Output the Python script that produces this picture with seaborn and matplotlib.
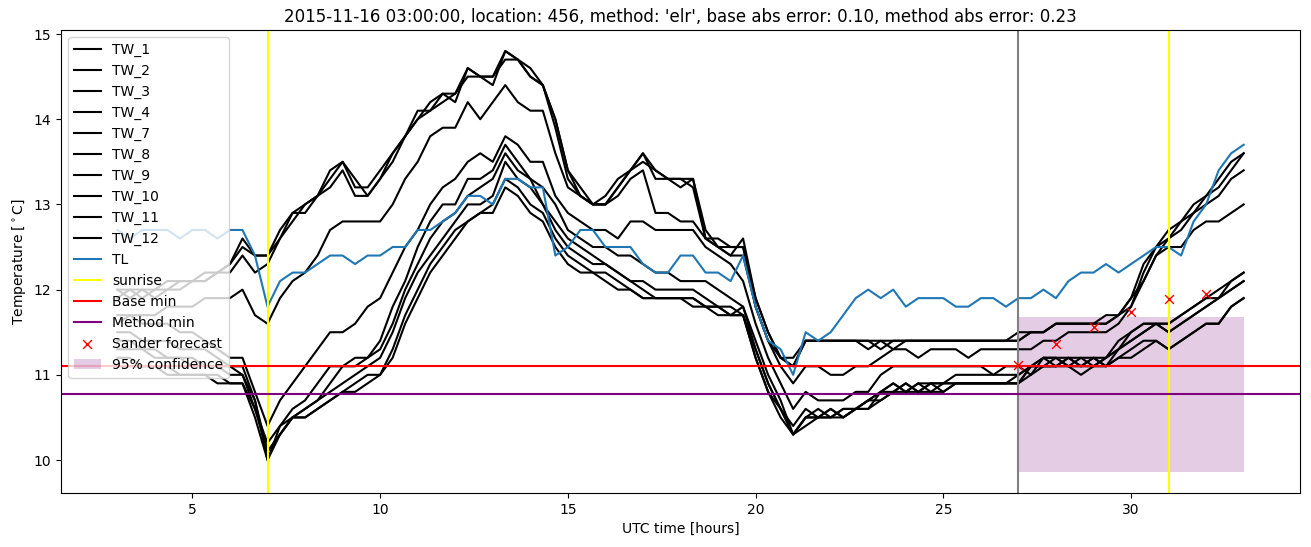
import numpy as np
import pandas as pd
import matplotlib
matplotlib.use("Agg")
import matplotlib.pyplot as plt
import seaborn as sns

# time grid: every 20 minutes from 03:00 to 33:00 (UTC hours)
hours = 3 + np.arange(91) / 3.0

TW_1 = [12.0, 11.9, 12.0, 11.9, 12.0, 12.0, 12.1, 12.1, 12.2, 12.3, 12.6, 12.4,
        12.4, 12.7, 12.9, 13.0, 13.1, 13.4, 13.5, 13.2, 13.2, 13.4, 13.6, 13.8,
        14.1, 14.1, 14.3, 14.2, 14.6, 14.5, 14.4, 14.8, 14.7, 14.6, 14.4, 14.0,
        13.4, 13.1, 13.0, 13.1, 13.3, 13.4, 13.6, 13.3, 13.3, 13.3, 13.3, 12.7,
        12.5, 12.5, 12.5, 11.9, 11.5, 11.2, 11.1, 11.4, 11.4, 11.4, 11.4, 11.4,
        11.3, 11.4, 11.4, 11.4, 11.4, 11.4, 11.4, 11.4, 11.4, 11.4, 11.4, 11.4,
        11.4, 11.5, 11.5, 11.6, 11.6, 11.6, 11.6, 11.6, 11.7, 11.8, 12.2, 12.5,
        12.7, 12.8, 13.0, 13.1, 13.3, 13.5, 13.6]
TW_2 = [12.0, 12.0, 11.9, 12.0, 12.0, 12.1, 12.1, 12.1, 12.2, 12.2, 12.4, 12.2,
        12.3, 12.6, 12.8, 13.0, 13.1, 13.2, 13.4, 13.1, 13.1, 13.3, 13.5, 13.8,
        14.0, 14.1, 14.2, 14.3, 14.6, 14.5, 14.5, 14.7, 14.7, 14.5, 14.4, 13.9,
        13.3, 13.1, 13.0, 13.0, 13.2, 13.4, 13.6, 13.4, 13.3, 13.2, 13.3, 12.6,
        12.6, 12.5, 12.5, 11.8, 11.4, 11.2, 11.1, 11.4, 11.4, 11.4, 11.4, 11.4,
        11.4, 11.3, 11.4, 11.4, 11.4, 11.4, 11.4, 11.4, 11.4, 11.4, 11.4, 11.4,
        11.4, 11.5, 11.5, 11.6, 11.6, 11.6, 11.6, 11.7, 11.7, 11.9, 12.3, 12.5,
        12.6, 12.8, 12.9, 13.1, 13.2, 13.4, 13.6]
TW_3 = [11.9, 12.0, 12.0, 12.0, 12.1, 12.1, 12.1, 12.2, 12.2, 12.3, 12.5, 12.4,
        12.4, 12.6, 12.9, 12.9, 13.1, 13.3, 13.5, 13.3, 13.1, 13.3, 13.6, 13.8,
        14.0, 14.2, 14.3, 14.3, 14.5, 14.5, 14.5, 14.8, 14.7, 14.5, 14.4, 14.0,
        13.4, 13.2, 13.0, 13.0, 13.2, 13.4, 13.5, 13.4, 13.3, 13.3, 13.2, 12.6,
        12.5, 12.4, 12.6, 11.9, 11.5, 11.2, 11.2, 11.4, 11.4, 11.4, 11.4, 11.4,
        11.4, 11.4, 11.3, 11.4, 11.4, 11.4, 11.4, 11.4, 11.4, 11.4, 11.4, 11.4,
        11.5, 11.5, 11.5, 11.6, 11.6, 11.6, 11.6, 11.6, 11.7, 11.9, 12.1, 12.4,
        12.6, 12.7, 12.9, 13.0, 13.1, 13.3, 13.4]
TW_4 = [11.6, 11.7, 11.7, 11.7, 11.8, 11.8, 11.8, 11.9, 11.9, 11.9, 12.0, 11.7,
        11.6, 11.9, 12.1, 12.2, 12.4, 12.7, 12.8, 12.8, 12.8, 12.8, 13.0, 13.3,
        13.5, 13.8, 13.9, 13.9, 14.2, 14.0, 14.2, 14.4, 14.2, 14.1, 14.1, 13.6,
        13.2, 13.1, 13.0, 13.0, 13.1, 13.3, 13.4, 12.9, 12.9, 12.8, 12.8, 12.6,
        12.5, 12.4, 12.4, 11.8, 11.4, 11.1, 10.9, 11.1, 11.1, 11.0, 11.0, 11.1,
        11.1, 11.2, 11.3, 11.3, 11.2, 11.3, 11.3, 11.3, 11.2, 11.3, 11.3, 11.3,
        11.3, 11.3, 11.4, 11.4, 11.5, 11.5, 11.5, 11.5, 11.6, 11.8, 12.1, 12.4,
        12.5, 12.5, 12.7, 12.8, 12.8, 12.9, 13.0]
TW_7 = [11.7, 11.7, 11.6, 11.6, 11.6, 11.5, 11.5, 11.4, 11.3, 11.2, 11.2, 10.8,
        10.4, 10.7, 10.9, 11.1, 11.3, 11.5, 11.5, 11.6, 11.8, 11.9, 12.2, 12.5,
        12.7, 13.0, 13.2, 13.3, 13.5, 13.6, 13.5, 13.8, 13.7, 13.5, 13.5, 13.1,
        12.9, 12.8, 12.7, 12.7, 12.6, 12.8, 12.8, 12.7, 12.7, 12.7, 12.7, 12.5,
        12.4, 12.3, 12.1, 11.6, 11.2, 10.9, 10.6, 10.8, 10.7, 10.7, 10.7, 10.8,
        10.8, 11.0, 11.1, 11.1, 11.1, 11.1, 11.1, 11.1, 11.1, 11.1, 11.0, 11.1,
        11.1, 11.0, 11.2, 11.2, 11.1, 11.2, 11.2, 11.1, 11.3, 11.5, 11.6, 11.6,
        11.6, 11.7, 11.8, 11.9, 11.9, 12.1, 12.2]
TW_8 = [11.5, 11.5, 11.4, 11.4, 11.4, 11.3, 11.3, 11.3, 11.2, 11.1, 11.1, 10.7,
        10.0, 10.4, 10.6, 10.7, 10.9, 11.1, 11.1, 11.2, 11.2, 11.4, 11.8, 12.1,
        12.5, 12.8, 13.0, 13.0, 13.3, 13.3, 13.4, 13.7, 13.5, 13.3, 13.2, 13.0,
        12.7, 12.6, 12.5, 12.5, 12.4, 12.4, 12.3, 12.2, 12.2, 12.1, 12.1, 12.1,
        12.0, 11.9, 11.8, 11.4, 11.0, 10.7, 10.3, 10.5, 10.5, 10.6, 10.5, 10.6,
        10.7, 10.8, 10.9, 10.8, 10.9, 10.9, 10.9, 11.0, 11.0, 11.0, 11.0, 11.0,
        11.0, 11.1, 11.2, 11.2, 11.2, 11.1, 11.2, 11.2, 11.4, 11.5, 11.6, 11.6,
        11.5, 11.6, 11.7, 11.8, 11.9, 12.0, 12.1]
TW_9 = [11.3, 11.3, 11.3, 11.2, 11.2, 11.2, 11.1, 11.1, 11.1, 11.1, 11.0, 10.7,
        10.1, 10.3, 10.5, 10.6, 10.7, 10.9, 11.1, 11.1, 11.2, 11.3, 11.6, 12.0,
        12.3, 12.6, 12.8, 12.9, 13.1, 13.2, 13.3, 13.6, 13.4, 13.3, 13.0, 12.8,
        12.6, 12.5, 12.4, 12.3, 12.2, 12.1, 12.1, 12.0, 12.0, 12.0, 12.0, 11.9,
        11.8, 11.8, 11.7, 11.3, 10.9, 10.6, 10.3, 10.5, 10.6, 10.5, 10.6, 10.6,
        10.7, 10.8, 10.8, 10.9, 10.8, 10.9, 10.9, 10.9, 10.9, 10.9, 10.9, 10.9,
        10.9, 11.1, 11.2, 11.1, 11.2, 11.2, 11.1, 11.2, 11.3, 11.4, 11.5, 11.6,
        11.6, 11.7, 11.8, 11.9, 12.0, 12.1, 12.2]
TW_10 = [11.2, 11.2, 11.1, 11.1, 11.1, 11.0, 11.0, 11.0, 11.0, 10.9, 10.9, 10.6,
         10.1, 10.3, 10.5, 10.6, 10.7, 10.8, 10.9, 11.0, 11.1, 11.2, 11.5, 11.9,
         12.2, 12.4, 12.6, 12.8, 13.0, 13.0, 13.1, 13.5, 13.3, 13.2, 13.0, 12.7,
         12.5, 12.4, 12.3, 12.3, 12.2, 12.1, 12.0, 11.9, 11.9, 11.9, 11.9, 11.8,
         11.8, 11.7, 11.7, 11.2, 10.8, 10.6, 10.3, 10.5, 10.5, 10.6, 10.5, 10.6,
         10.6, 10.8, 10.9, 10.8, 10.8, 10.9, 10.8, 10.9, 10.9, 10.9, 10.9, 10.9,
         10.9, 11.1, 11.1, 11.2, 11.1, 11.1, 11.2, 11.1, 11.2, 11.3, 11.4, 11.4,
         11.3, 11.4, 11.5, 11.6, 11.6, 11.8, 11.9]
TW_11 = [11.1, 11.1, 11.1, 11.1, 11.0, 11.0, 11.0, 11.0, 10.9, 10.9, 10.9, 10.5,
         10.0, 10.3, 10.5, 10.5, 10.6, 10.7, 10.8, 10.9, 11.0, 11.0, 11.3, 11.7,
         12.0, 12.3, 12.5, 12.7, 12.8, 12.9, 13.0, 13.3, 13.2, 13.0, 12.9, 12.6,
         12.4, 12.3, 12.2, 12.2, 12.1, 12.0, 11.9, 11.9, 11.9, 11.9, 11.8, 11.8,
         11.7, 11.7, 11.7, 11.2, 10.8, 10.5, 10.3, 10.4, 10.5, 10.5, 10.5, 10.6,
         10.6, 10.7, 10.8, 10.8, 10.9, 10.8, 10.8, 10.9, 10.9, 10.9, 10.9, 10.9,
         10.9, 11.0, 11.1, 11.1, 11.1, 11.0, 11.1, 11.1, 11.2, 11.2, 11.3, 11.4,
         11.3, 11.4, 11.5, 11.6, 11.6, 11.8, 11.9]
TW_12 = [11.4, 11.4, 11.3, 11.3, 11.2, 11.2, 11.2, 11.1, 11.1, 11.0, 11.0, 10.6,
         10.2, 10.4, 10.5, 10.5, 10.6, 10.7, 10.8, 10.8, 10.9, 11.0, 11.2, 11.6,
         11.9, 12.2, 12.4, 12.6, 12.8, 12.9, 12.9, 13.2, 13.1, 12.9, 12.8, 12.5,
         12.3, 12.2, 12.2, 12.1, 12.0, 12.0, 11.9, 11.9, 11.9, 11.9, 11.9, 11.8,
         11.8, 11.7, 11.8, 11.3, 10.9, 10.6, 10.4, 10.6, 10.5, 10.5, 10.6, 10.6,
         10.7, 10.7, 10.8, 10.9, 10.8, 10.8, 10.9, 10.9, 10.9, 10.9, 10.9, 10.9,
         11.0, 11.1, 11.1, 11.1, 11.2, 11.1, 11.1, 11.2, 11.3, 11.4, 11.5, 11.6,
         11.5, 11.6, 11.7, 11.8, 11.9, 12.0, 12.1]
TL = [12.7, 12.6, 12.7, 12.7, 12.7, 12.6, 12.7, 12.7, 12.6, 12.7, 12.7, 12.4,
      11.8, 12.1, 12.2, 12.2, 12.3, 12.4, 12.4, 12.3, 12.4, 12.4, 12.5, 12.5,
      12.7, 12.7, 12.8, 12.9, 13.1, 13.1, 13.0, 13.3, 13.3, 13.2, 13.2, 12.4,
      12.5, 12.7, 12.7, 12.5, 12.5, 12.5, 12.3, 12.2, 12.2, 12.4, 12.4, 12.2,
      12.2, 12.1, 12.4, 11.8, 11.4, 11.3, 11.0, 11.5, 11.4, 11.5, 11.7, 11.9,
      12.0, 11.9, 12.0, 11.8, 11.9, 11.9, 11.9, 11.8, 11.8, 11.9, 11.9, 11.8,
      11.9, 11.9, 12.0, 11.9, 12.1, 12.2, 12.2, 12.3, 12.2, 12.3, 12.4, 12.5,
      12.5, 12.4, 12.8, 13.0, 13.4, 13.6, 13.7]

tw_names = ["TW_1", "TW_2", "TW_3", "TW_4", "TW_7", "TW_8", "TW_9", "TW_10", "TW_11", "TW_12"]
tw_series = [TW_1, TW_2, TW_3, TW_4, TW_7, TW_8, TW_9, TW_10, TW_11, TW_12]

sunrise_hours = [7.0, 31.0]
forecast_time = 27.0
base_min = 11.1
method_min = 10.78
sander_hours = [27, 28, 29, 30, 31, 32]
sander_values = [11.12, 11.36, 11.56, 11.74, 11.89, 11.95]
conf_hours = [27, 33]
conf_low = 9.86
conf_high = 11.68

title = ("2015-11-16 03:00:00, location: 456, method: 'elr', "
         "base abs error: 0.10, method abs error: 0.23")

fig = plt.figure(figsize=(13.11, 5.47), dpi=100)
ax = fig.add_axes([61 / 1311, 1 - 493 / 547, (1300 - 61) / 1311, (493 - 30) / 547])

for name, vals in zip(tw_names, tw_series):
    sns.lineplot(x=hours, y=vals, color="black", label=name, ax=ax)
sns.lineplot(x=hours, y=TL, color="#1f77b4", label="TL", ax=ax)

ax.axvline(forecast_time, color="grey")
for i, s in enumerate(sunrise_hours):
    ax.axvline(s, color="yellow", label="sunrise" if i == 0 else None)
ax.axhline(base_min, color="red", label="Base min")
ax.axhline(method_min, color="purple", label="Method min")
sns.scatterplot(x=sander_hours, y=sander_values, marker="x", color="red",
                s=40, linewidth=1.0, label="Sander forecast", ax=ax, zorder=3)
ax.fill_between(conf_hours, [conf_low] * 2, [conf_high] * 2, color="purple",
                alpha=0.2, linewidth=0, label="95% confidence")

ax.set_title(title)
ax.set_xlabel("UTC time [hours]")
ax.set_ylabel("Temperature [$^\\circ$C]")
ax.legend(loc="upper left")

fig.savefig("out.png", dpi=100)
